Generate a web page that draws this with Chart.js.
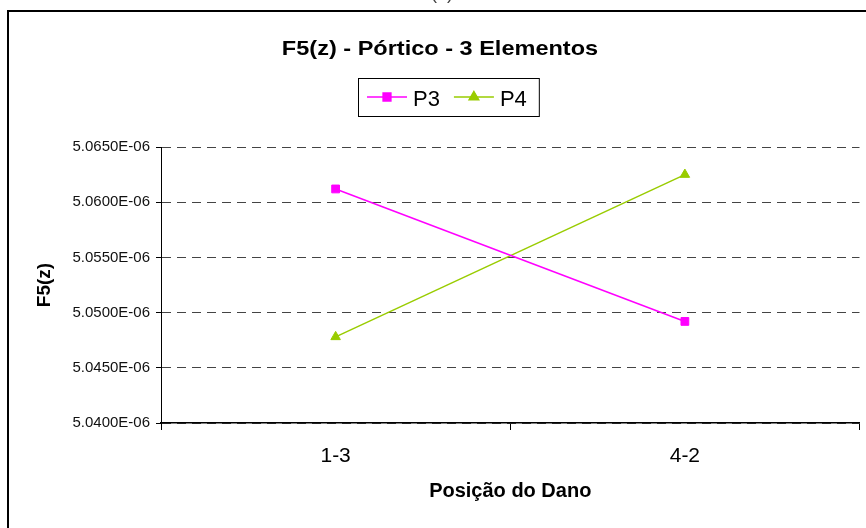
<!DOCTYPE html>
<html>
<head>
<meta charset="utf-8">
<script src="https://cdn.jsdelivr.net/npm/chart.js@4"></script>
<style>
  html, body { margin: 0; padding: 0; background: #fff; }
</style>
</head>
<body>
<canvas id="chart" width="866" height="528"></canvas>
<script>
/* F5(z) - Pórtico - 3 Elementos */
const categories = ["1-3", "4-2"];
const serieP3 = [5.0612e-6, 5.0492e-6];
const serieP4 = [5.0478e-6, 5.0625e-6];
const yTicks = [5.040e-6, 5.045e-6, 5.050e-6, 5.055e-6, 5.060e-6, 5.065e-6];

const FONT = "'Liberation Sans', Arial, sans-serif";

// 5.0650E-06
const sci = (v) => {
  const [m, e] = v.toExponential(4).split("e");
  const n = parseInt(e, 10);
  return m + "E" + (n < 0 ? "-" : "+") + String(Math.abs(n)).padStart(2, "0");
};

// marco, título y leyenda al estilo Excel
const decor = {
  id: "decor",
  beforeDraw(chart) {
    const c = chart.ctx;
    c.save();
    c.fillStyle = "#fff";
    c.fillRect(0, 0, chart.width, chart.height);
    c.restore();
  },
  afterDraw(chart) {
    const c = chart.ctx;
    c.save();
    c.strokeStyle = "#000";
    c.lineWidth = 2;
    c.beginPath();
    c.moveTo(8, chart.height);
    c.lineTo(8, 11);
    c.lineTo(chart.width, 11);
    c.stroke();

    c.fillStyle = "#444";
    c.font = "18px " + FONT;
    c.textAlign = "center";
    c.textBaseline = "alphabetic";
    c.fillText("(b)", 442, -1);

    // título (el original está algo estirado en horizontal)
    c.save();
    c.fillStyle = "#000";
    c.font = "bold 21px " + FONT;
    c.translate(440, 55);
    c.scale(1.12, 1);
    c.fillText("F5(z) - Pórtico - 3 Elementos", 0, 0);
    c.restore();

    // leyenda
    c.font = "22px " + FONT;
    c.textAlign = "left";
    let x = 367;
    const yMid = 97;
    chart.data.datasets.forEach((ds) => {
      c.strokeStyle = ds.borderColor;
      c.lineWidth = 1.5;
      c.beginPath();
      c.moveTo(x, yMid);
      c.lineTo(x + 40, yMid);
      c.stroke();
      Chart.helpers.drawPoint(c, {
        pointStyle: ds.pointStyle, radius: ds.pointRadius, borderWidth: 1
      }, x + 20, yMid);
      c.fillStyle = ds.borderColor;
      c.fill();
      c.fillStyle = "#000";
      c.fillText(ds.label, x + 46, 106);
      x += 46 + c.measureText(ds.label).width + 14;
    });
    c.strokeStyle = "#000";
    c.lineWidth = 1;
    c.strokeRect(358.5, 78.5, x - 358 - 2, 38);
    c.restore();
  }
};

new Chart(document.getElementById("chart").getContext("2d"), {
  type: "line",
  data: {
    labels: categories,
    datasets: [
      {
        label: "P3",
        data: serieP3,
        borderColor: "#FF00FF",
        backgroundColor: "#FF00FF",
        borderWidth: 1.5,
        pointStyle: "rect",
        pointRadius: 5.5,
        pointBorderWidth: 1,
        tension: 0
      },
      {
        label: "P4",
        data: serieP4,
        borderColor: "#99CC00",
        backgroundColor: "#99CC00",
        borderWidth: 1.5,
        pointStyle: "triangle",
        pointRadius: 5.5,
        pointBorderWidth: 1,
        tension: 0
      }
    ]
  },
  options: {
    responsive: false,
    animation: false,
    events: [],
    layout: { padding: { top: 147, left: 0, right: 4, bottom: 0 } },
    plugins: {
      legend: { display: false },
      title: { display: false },
      tooltip: { enabled: false }
    },
    scales: {
      x: {
        offset: true,
        afterFit: (s) => { s.height = 105; },
        grid: {
          offset: true,
          drawOnChartArea: false,
          drawTicks: true,
          tickLength: 7,
          tickColor: "#000",
          tickWidth: 1
        },
        border: { color: "#000", width: 1.5 },
        ticks: {
          color: "#000",
          padding: 14,
          maxRotation: 0,
          font: { family: FONT, size: 21 }
        },
        title: {
          display: true,
          text: "Posição do Dano",
          color: "#000",
          font: { family: FONT, size: 20, weight: "bold" },
          padding: { top: 0, bottom: 25 }
        }
      },
      y: {
        min: yTicks[0],
        max: yTicks[yTicks.length - 1],
        afterFit: (s) => { s.width = 161; },
        afterBuildTicks: (s) => { s.ticks = yTicks.map((v) => ({ value: v })); },
        grid: {
          color: "#444",
          lineWidth: 1,
          drawTicks: true,
          tickLength: 5,
          tickColor: "#000",
          tickWidth: 1
        },
        border: { color: "#000", width: 1, dash: [9, 6] },
        ticks: {
          color: "#111",
          padding: 6,
          font: { family: FONT, size: 15 },
          callback: (v) => sci(v)
        },
        title: {
          display: true,
          text: "F5(z)",
          color: "#000",
          font: { family: FONT, size: 19, weight: "bold" },
          padding: { top: 33, bottom: 0 }
        }
      }
    }
  },
  plugins: [decor]
});
</script>
</body>
</html>
